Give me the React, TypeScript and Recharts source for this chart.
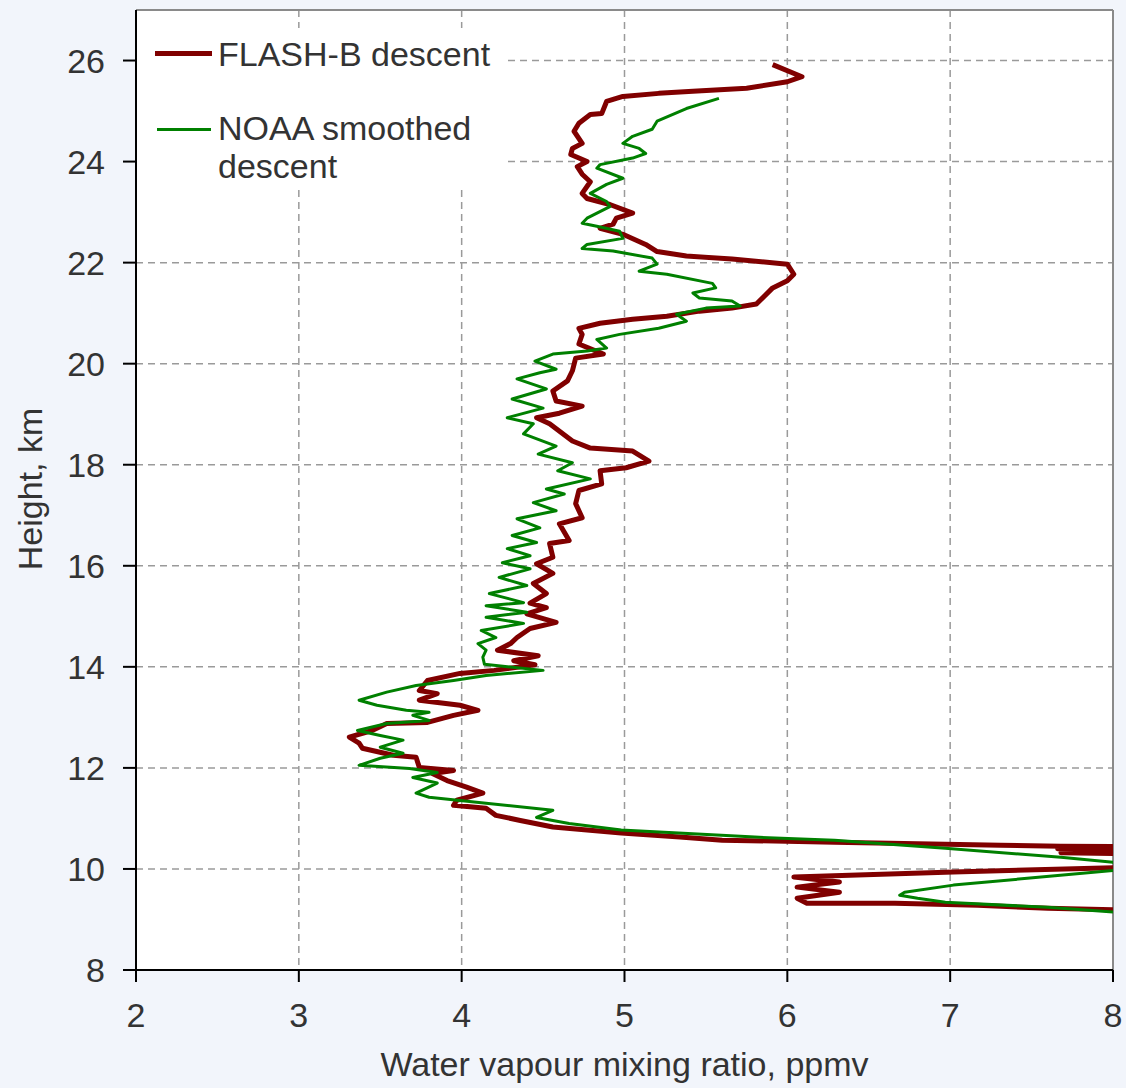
import React from 'react';
import {
  ScatterChart,
  Scatter,
  XAxis,
  YAxis,
  CartesianGrid,
  Legend,
  ReferenceLine,
} from 'recharts';

// FLASH-B descent profile (height km, mixing ratio ppmv)
const flashHeight = [
  25.92, 25.68, 25.58, 25.45, 25.39, 25.35, 25.29, 25.19, 24.95, 24.93, 24.76, 24.6, 24.36, 24.26,
  24.14, 24.0, 23.9, 23.75, 23.6, 23.37, 23.27, 23.15, 22.98, 22.88, 22.76, 22.68, 22.56, 22.36,
  22.22, 22.13, 22.07, 21.97, 21.77, 21.64, 21.5, 21.18, 21.1, 21.04, 20.94, 20.88, 20.8, 20.7,
  20.58, 20.39, 20.19, 20.11, 19.86, 19.66, 19.46, 19.26, 19.16, 19.02, 18.93, 18.81, 18.47, 18.33,
  18.27, 18.07, 17.94, 17.88, 17.62, 17.49, 17.23, 16.95, 16.83, 16.5, 16.44, 16.17, 16.04, 15.85,
  15.65, 15.45, 15.26, 15.17, 15.05, 14.88, 14.76, 14.58, 14.46, 14.33, 14.22, 14.12, 14.04, 13.93,
  13.87, 13.73, 13.53, 13.47, 13.34, 13.24, 13.14, 13.04, 12.9, 12.88, 12.74, 12.61, 12.49, 12.39,
  12.25, 12.21, 12.01, 11.95, 11.89, 11.75, 11.62, 11.5, 11.36, 11.26, 11.2, 11.06, 10.96, 10.83,
  10.77, 10.71, 10.63, 10.57, 10.53, 10.47, 10.45, 10.44, 10.4, 10.37, 10.32, 10.29, 10.05, 9.94,
  9.84, 9.74, 9.64, 9.54, 9.42, 9.32, 9.32, 9.28, 9.22, 9.19, 9.17,
];
const flashRatio = [
  5.91, 6.09, 6.0, 5.75, 5.42, 5.21, 4.99, 4.89, 4.86, 4.79, 4.72, 4.69, 4.74, 4.68,
  4.67, 4.77, 4.71, 4.74, 4.79, 4.74, 4.77, 4.91, 5.05, 4.95, 4.93, 4.85, 4.99, 5.13,
  5.2, 5.38, 5.66, 6.0, 6.04, 6.0, 5.91, 5.81, 5.66, 5.46, 5.26, 5.05, 4.85, 4.72,
  4.74, 4.72, 4.87, 4.7, 4.68, 4.65, 4.56, 4.58, 4.74, 4.6, 4.46, 4.54, 4.68, 4.79,
  5.05, 5.15, 5.01, 4.85, 4.86, 4.72, 4.7, 4.74, 4.6, 4.66, 4.54, 4.56, 4.46, 4.56,
  4.44, 4.52, 4.42, 4.52, 4.4, 4.58, 4.42, 4.34, 4.3, 4.22, 4.47, 4.32, 4.45, 4.2,
  3.99, 3.79, 3.74, 3.85, 3.74, 3.99, 4.1, 3.95, 3.79, 3.54, 3.45, 3.31, 3.37, 3.39,
  3.58, 3.72, 3.74, 3.95, 3.82, 3.91, 4.03, 4.13, 3.97, 3.95, 4.15, 4.21, 4.36, 4.56,
  4.77, 4.98, 5.34, 5.6, 6.29, 7.31, 7.68, 8.3, 7.66, 8.3, 7.68, 8.3, 8.3, 7.02,
  6.04, 6.32, 6.06, 6.32, 6.06, 6.12, 6.66, 7.17, 7.6, 8.0, 8.2,
];

// NOAA smoothed descent profile
const noaaHeight = [
  25.25, 25.05, 24.8, 24.64, 24.5, 24.36, 24.26, 24.16, 24.07, 23.94, 23.87, 23.67, 23.55, 23.37,
  23.21, 23.11, 22.88, 22.78, 22.72, 22.62, 22.48, 22.36, 22.28, 22.23, 22.09, 21.97, 21.83, 21.77,
  21.59, 21.5, 21.4, 21.3, 21.24, 21.14, 21.1, 20.98, 20.84, 20.7, 20.58, 20.48, 20.31, 20.25,
  20.19, 20.05, 19.89, 19.82, 19.7, 19.5, 19.3, 19.12, 18.93, 18.81, 18.61, 18.37, 18.21, 18.04,
  17.88, 17.72, 17.52, 17.42, 17.25, 17.09, 16.93, 16.75, 16.6, 16.46, 16.34, 16.2, 16.06, 15.94,
  15.77, 15.61, 15.45, 15.27, 15.21, 15.08, 14.98, 14.86, 14.72, 14.58, 14.46, 14.33, 14.19, 14.05,
  13.93, 13.83, 13.73, 13.63, 13.5, 13.34, 13.24, 13.14, 13.1, 13.04, 12.94, 12.88, 12.74, 12.64,
  12.55, 12.41, 12.29, 12.19, 12.05, 11.99, 11.91, 11.81, 11.7, 11.5, 11.42, 11.3, 11.16, 11.02,
  10.9, 10.77, 10.63, 10.57, 10.41, 10.23, 10.13, 10.06, 9.97, 9.82, 9.68, 9.54, 9.48, 9.42,
  9.34, 9.24, 9.15,
];
const noaaRatio = [
  5.58, 5.38, 5.2, 5.17, 5.05, 4.99, 5.09, 5.13, 5.05, 4.85, 4.83, 4.99, 4.89, 4.79,
  4.89, 4.91, 4.77, 4.74, 4.83, 4.97, 4.99, 4.77, 4.74, 4.93, 5.17, 5.2, 5.09, 5.26,
  5.54, 5.56, 5.42, 5.46, 5.66, 5.71, 5.5, 5.32, 5.38, 5.21, 4.97, 4.83, 4.89, 4.77,
  4.56, 4.45, 4.58, 4.48, 4.34, 4.52, 4.31, 4.5, 4.28, 4.44, 4.38, 4.58, 4.47, 4.68,
  4.59, 4.79, 4.52, 4.63, 4.44, 4.58, 4.34, 4.48, 4.31, 4.46, 4.28, 4.42, 4.25, 4.42,
  4.23, 4.4, 4.17, 4.38, 4.15, 4.4, 4.15, 4.38, 4.12, 4.21, 4.1, 4.15, 4.13, 4.14,
  4.5, 4.15, 3.95, 3.72, 3.54, 3.37, 3.48, 3.66, 3.8, 3.7, 3.8, 3.54, 3.36, 3.5,
  3.64, 3.5, 3.64, 3.5, 3.37, 3.68, 3.85, 3.7, 3.85, 3.72, 3.8, 4.15, 4.56, 4.46,
  4.66, 4.98, 5.8, 6.29, 6.97, 7.68, 8.0, 8.04, 8.0, 7.49, 7.02, 6.72, 6.69, 6.8,
  6.97, 7.6, 8.0,
];

const xTicks = [2, 3, 4, 5, 6, 7, 8];
const yTicks = [8, 10, 12, 14, 16, 18, 20, 22, 24, 26];

const flashData = flashHeight.map((h, i) => ({ h, v: flashRatio[i] }));
const noaaData = noaaHeight.map((h, i) => ({ h, v: noaaRatio[i] }));

const FONT = '"Liberation Sans", Arial, sans-serif';
const TEXT = '#333';
const FS = 34;

const LegendBox = () => (
  <div
    style={{
      position: 'relative',
      width: 370,
      height: 160,
      background: '#fff',
      fontFamily: FONT,
      fontSize: FS,
      lineHeight: '38px',
      color: TEXT,
    }}
  >
    <div style={{ position: 'absolute', left: 18, top: 23, width: 57, height: 5, background: '#800000' }} />
    <div style={{ position: 'absolute', left: 81, top: 7, whiteSpace: 'nowrap' }}>FLASH-B descent</div>
    <div style={{ position: 'absolute', left: 20, top: 100, width: 54, height: 3, background: '#008000' }} />
    <div style={{ position: 'absolute', left: 81, top: 81 }}>
      NOAA smoothed
      <br />
      descent
    </div>
  </div>
);

const YTitle = () => (
  <text x={42} y={489} transform="rotate(-90, 42, 489)" textAnchor="middle" fill={TEXT} fontSize={FS} fontFamily={FONT}>
    Height, km
  </text>
);

const App = () => {
  return (
    <div style={{ position: 'absolute', left: 0, top: 0, width: 1126, height: 1088, background: '#f2f5fb', fontFamily: FONT }}>
      <ScatterChart width={1126} height={1088} margin={{ top: 10, right: 13, left: 0, bottom: 0 }}>
        <CartesianGrid fill="#fff" stroke="#9a9a9a" strokeWidth={1.5} strokeDasharray="7 5" />
        <XAxis
          type="number"
          dataKey="v"
          domain={[2, 8]}
          ticks={xTicks}
          allowDataOverflow
          height={118}
          tickSize={12}
          tickMargin={21}
          axisLine={{ stroke: '#000', strokeWidth: 2 }}
          tickLine={{ stroke: '#000', strokeWidth: 2 }}
          tick={{ fill: TEXT, fontSize: FS, fontFamily: FONT }}
          label={{ value: 'Water vapour mixing ratio, ppmv', position: 'insideBottom', offset: 12, fill: TEXT, fontSize: FS, fontFamily: FONT }}
        />
        <YAxis
          type="number"
          dataKey="h"
          domain={[8, 27]}
          ticks={yTicks}
          allowDataOverflow
          width={136}
          tickSize={13}
          tickMargin={18}
          axisLine={{ stroke: '#000', strokeWidth: 2 }}
          tickLine={{ stroke: '#000', strokeWidth: 2 }}
          tick={{ fill: TEXT, fontSize: FS, fontFamily: FONT }}
          label={<YTitle />}
        />
        <Scatter
          name="FLASH-B descent"
          data={flashData}
          line={{ stroke: '#800000', strokeWidth: 5, strokeLinejoin: 'round' }}
          lineJointType="linear"
          shape={() => <g />}
          isAnimationActive={false}
        />
        <Scatter
          name="NOAA smoothed descent"
          data={noaaData}
          line={{ stroke: '#008000', strokeWidth: 3, strokeLinejoin: 'round' }}
          lineJointType="linear"
          shape={() => <g />}
          isAnimationActive={false}
        />
        <ReferenceLine y={27} stroke="#8a8a8a" strokeWidth={2} />
        <ReferenceLine x={8} stroke="#8a8a8a" strokeWidth={2} />
        <Legend
          layout="vertical"
          align="center"
          verticalAlign="middle"
          content={<LegendBox />}
          wrapperStyle={{ left: 137, top: 28, width: 370, height: 160 }}
        />
      </ScatterChart>
    </div>
  );
};

export default App;
